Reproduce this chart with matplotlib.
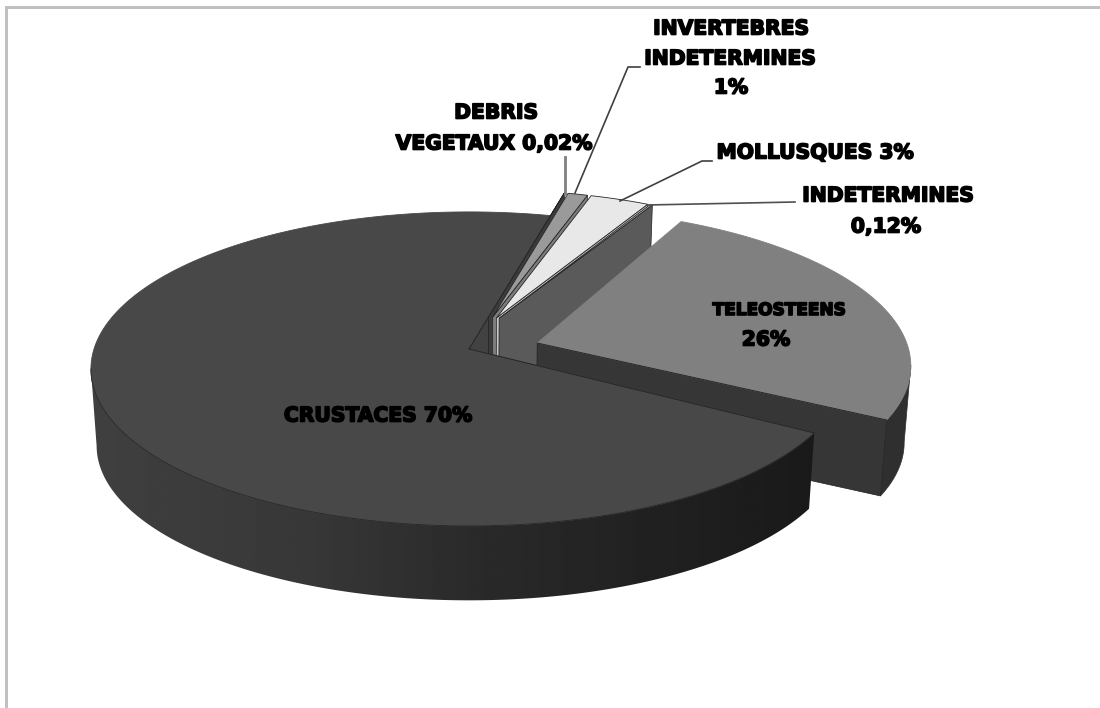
import matplotlib
matplotlib.use("Agg")
import matplotlib.pyplot as plt
import matplotlib.patheffects as pe
import numpy as np
from matplotlib.patches import Polygon, Rectangle

# slices, counter-clockwise from the top edge of the big slice
names = ["CRUSTACES", "TELEOSTEENS", "INDETERMINES", "MOLLUSQUES", "INVERTEBRES INDETERMINES", "DEBRIS VEGETAUX"]
values = [70.6, 25.5, 0.12, 3, 1, 0.02]

# how each slice is pulled out of the pie
explode = [0, 0.187, 0.22, 0.22, 0.22, 0.22]
explode_dir = [0, 12, 68, 70, 73, 75.9]
radius = [1, 0.99, 0.975, 0.975, 0.975, 0.975]
turn = [0, 2, 0, 0, 0, 0]
top_colors = ["#484848", "#808080", "#b4b4b4", "#e8e8e8", "#9a9a9a", "#4a4a4a"]
wall_colors = ["#424242", "#363636", "#5a5a5a", "#c8c8c8", "#7c7c7c", "#3c3c3c"]

# labels: text, x centre, y centre, font size
labels = [
    ("INVERTEBRES", 731, 29, 14.6), ("INDETERMINES", 730, 59, 14.6), ("1%", 731, 88, 14.6),
    ("DEBRIS", 496, 113, 14.6), ("VEGETAUX 0,02%", 494, 144, 14.6),
    ("MOLLUSQUES 3%", 815, 153, 14.6),
    ("INDETERMINES", 888, 196, 14.6), ("0,12%", 886, 227, 14.6),
    ("TELEOSTEENS", 779, 310, 12.2), ("26%", 766, 340, 14.6),
    ("CRUSTACES 70%", 378, 416, 14.6),
]
leaders = [
    ([565, 565], [157, 194], "#808080", 2.0),
    ([640, 628, 575], [67, 67, 193], "#404040", 1.2),
    ([712, 702, 620], [161, 161, 201], "#404040", 1.2),
    ([795, 647], [202, 205], "#505050", 1.2),
]

START = 75.9
CX, CY = 469, 349
R, S, K = 375, 154.5, 0.127
DROP, SCALE = 77, 0.985


def project(u, v, bottom=False):
    w = 1 + K * v
    x = R * u / w
    y = -S * v / w
    if bottom:
        x = x * SCALE
        y = y * SCALE + DROP
    return CX + x, CY + y


def slice_geometry(t0, t1, i):
    d = np.radians(explode_dir[i])
    tip = explode[i] * np.cos(d), explode[i] * np.sin(d)
    n = max(int(abs(t1 - t0)) * 2, 2)
    t = np.radians(np.linspace(t0, t1, n) + turn[i])
    return tip, tip[0] + radius[i] * np.cos(t), tip[1] + radius[i] * np.sin(t)


def draw_cut_wall(ax, tip, u, v, color):
    xa, ya = project(tip[0], tip[1])
    xb, yb = project(u, v)
    xc, yc = project(u, v, bottom=True)
    xd, yd = project(tip[0], tip[1], bottom=True)
    ax.add_patch(Polygon([(xa, ya), (xb, yb), (xc, yc), (xd, yd)], closed=True,
                         fc=color, ec="#202020", lw=0.5))


def draw_top(ax, tip, u, v, color, edge="#262626"):
    xt, yt = project(tip[0], tip[1])
    x, y = project(u, v)
    pts = [(xt, yt)] + list(zip(x, y))
    ax.add_patch(Polygon(pts, closed=True, fc=color, ec=edge, lw=0.6))


def draw_edge(ax, tip, u, v):
    xt, yt = project(tip[0], tip[1])
    x, y = project(u, v)
    ax.plot([xt, x], [yt, y], color="#262626", lw=0.7)


def wall_outline(u, v):
    x0, y0 = project(u, v)
    x1, y1 = project(u, v, bottom=True)
    return list(zip(x0, y0)) + list(zip(x1[::-1], y1[::-1]))


fig = plt.figure(figsize=(11, 7.08), dpi=100)
ax = fig.add_axes([0, 0, 1, 1])

ax.add_patch(Rectangle((5, 6), 1095, 3, fc="#c0c0c0", ec="none"))
ax.add_patch(Rectangle((5, 6), 3, 702, fc="#c0c0c0", ec="none"))

edges = START + np.cumsum([0] + values) / np.sum(values) * 360
geo = [slice_geometry(edges[i], edges[i + 1], i) for i in range(len(values))]

# cut face of the big slice sits behind the small ones
tip, u, v = geo[0]
draw_cut_wall(ax, tip, u[0], v[0], wall_colors[0])

# small slices next, left one at the back
for i in [5, 4, 3, 2]:
    tip, u, v = geo[i]
    draw_cut_wall(ax, tip, u[0], v[0], wall_colors[i])
    draw_top(ax, tip, u, v, top_colors[i])

# teleosteens
tip, u, v = geo[1]
front = v < -0.1
ax.add_patch(Polygon(wall_outline(u[front], v[front]), closed=True, fc="#2f2f2f", ec="#2f2f2f", lw=0.5))
draw_cut_wall(ax, tip, u[0], v[0], wall_colors[1])
draw_top(ax, tip, u, v, top_colors[1], edge=top_colors[1])
draw_edge(ax, tip, u[0], v[0])

# crustaces side wall with its left to right shading, then the top
tip, u, v = geo[0]
front = v < -K
outline = Polygon(wall_outline(u[front], v[front]), closed=True, transform=ax.transData, fc="none", ec="none")
ax.add_patch(outline)
ramp = np.interp(np.linspace(90, 820, 256), [90, 300, 480, 650, 820], [0.25, 0.22, 0.165, 0.13, 0.10])
img = ax.imshow(ramp[None, :], extent=(90, 820, 610, 340), cmap="gray", vmin=0, vmax=1,
                aspect="auto", zorder=1, interpolation="bilinear")
img.set_clip_path(outline)
draw_top(ax, tip, u, v, top_colors[0], edge=top_colors[0])
draw_edge(ax, tip, u[0], v[0])
draw_edge(ax, tip, u[-1], v[-1])
xr, yr = project(u[front], v[front])
ax.plot(xr, yr, color="#262626", lw=0.6)

for xs, ys, c, lw in leaders:
    ax.plot(xs, ys, color=c, lw=lw, solid_joinstyle="miter")

for txt, x, y, size in labels:
    ax.text(x, y, txt, ha="center", va="center", fontsize=size, fontweight="bold",
            family="DejaVu Sans", color="black",
            path_effects=[pe.withStroke(linewidth=1.2, foreground="black")])

ax.set_xlim(0, 1100)
ax.set_ylim(708, 0)
ax.axis("off")

fig.savefig("out.png", dpi=100)
